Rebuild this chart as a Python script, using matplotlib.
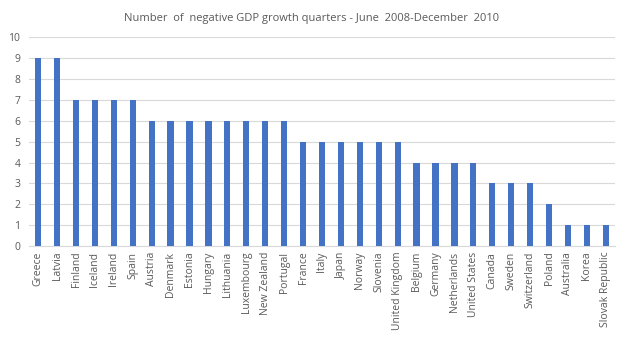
import matplotlib
matplotlib.use("Agg")
import matplotlib.pyplot as plt

countries = ["Greece", "Latvia", "Finland", "Iceland", "Ireland", "Spain", "Austria", "Denmark",
             "Estonia", "Hungary", "Lithuania", "Luxembourg", "New Zealand", "Portugal", "France",
             "Italy", "Japan", "Norway", "Slovenia", "United Kingdom", "Belgium", "Germany",
             "Netherlands", "United States", "Canada", "Sweden", "Switzerland", "Poland",
             "Australia", "Korea", "Slovak Republic"]
quarters = [9, 9, 7, 7, 7, 7, 6, 6, 6, 6, 6, 6, 6, 6, 5, 5, 5, 5, 5, 5, 4, 4, 4, 4, 3, 3, 3, 2, 1, 1, 1]
yticks = list(range(0, 11))
title = "Number  of  negative GDP growth quarters - June  2008-December  2010"

plt.rcParams['font.family'] = ['Open Sans', 'DejaVu Sans']
txt = "#595959"

fig = plt.figure(figsize=(6.24, 3.4), dpi=100)
ax = fig.add_axes([0.046, 0.276, 0.94, 0.615])
x = list(range(len(countries)))
ax.bar(x, quarters, width=0.33, color="#4472C4", zorder=3)
ax.set_xlim(-0.5, len(countries) - 0.5)
ax.set_ylim(0, 10)
ax.set_yticks(yticks)
ax.set_yticklabels([str(t) for t in yticks], fontsize=7.5, color=txt)
ax.set_xticks(x)
ax.set_xticklabels(countries, rotation=90, fontsize=7.5, color=txt)
ax.grid(axis="y", color="#d9d9d9", linewidth=0.8, zorder=0)
for s in ["top", "right", "left"]:
    ax.spines[s].set_visible(False)
ax.spines["bottom"].set_color("#d9d9d9")
ax.tick_params(axis="both", length=0, pad=4)
ax.tick_params(axis="y", pad=6)
fig.text(0.5, 0.945, title, ha="center", va="center", fontsize=8, color=txt)
fig.savefig("out.png", dpi=100)
